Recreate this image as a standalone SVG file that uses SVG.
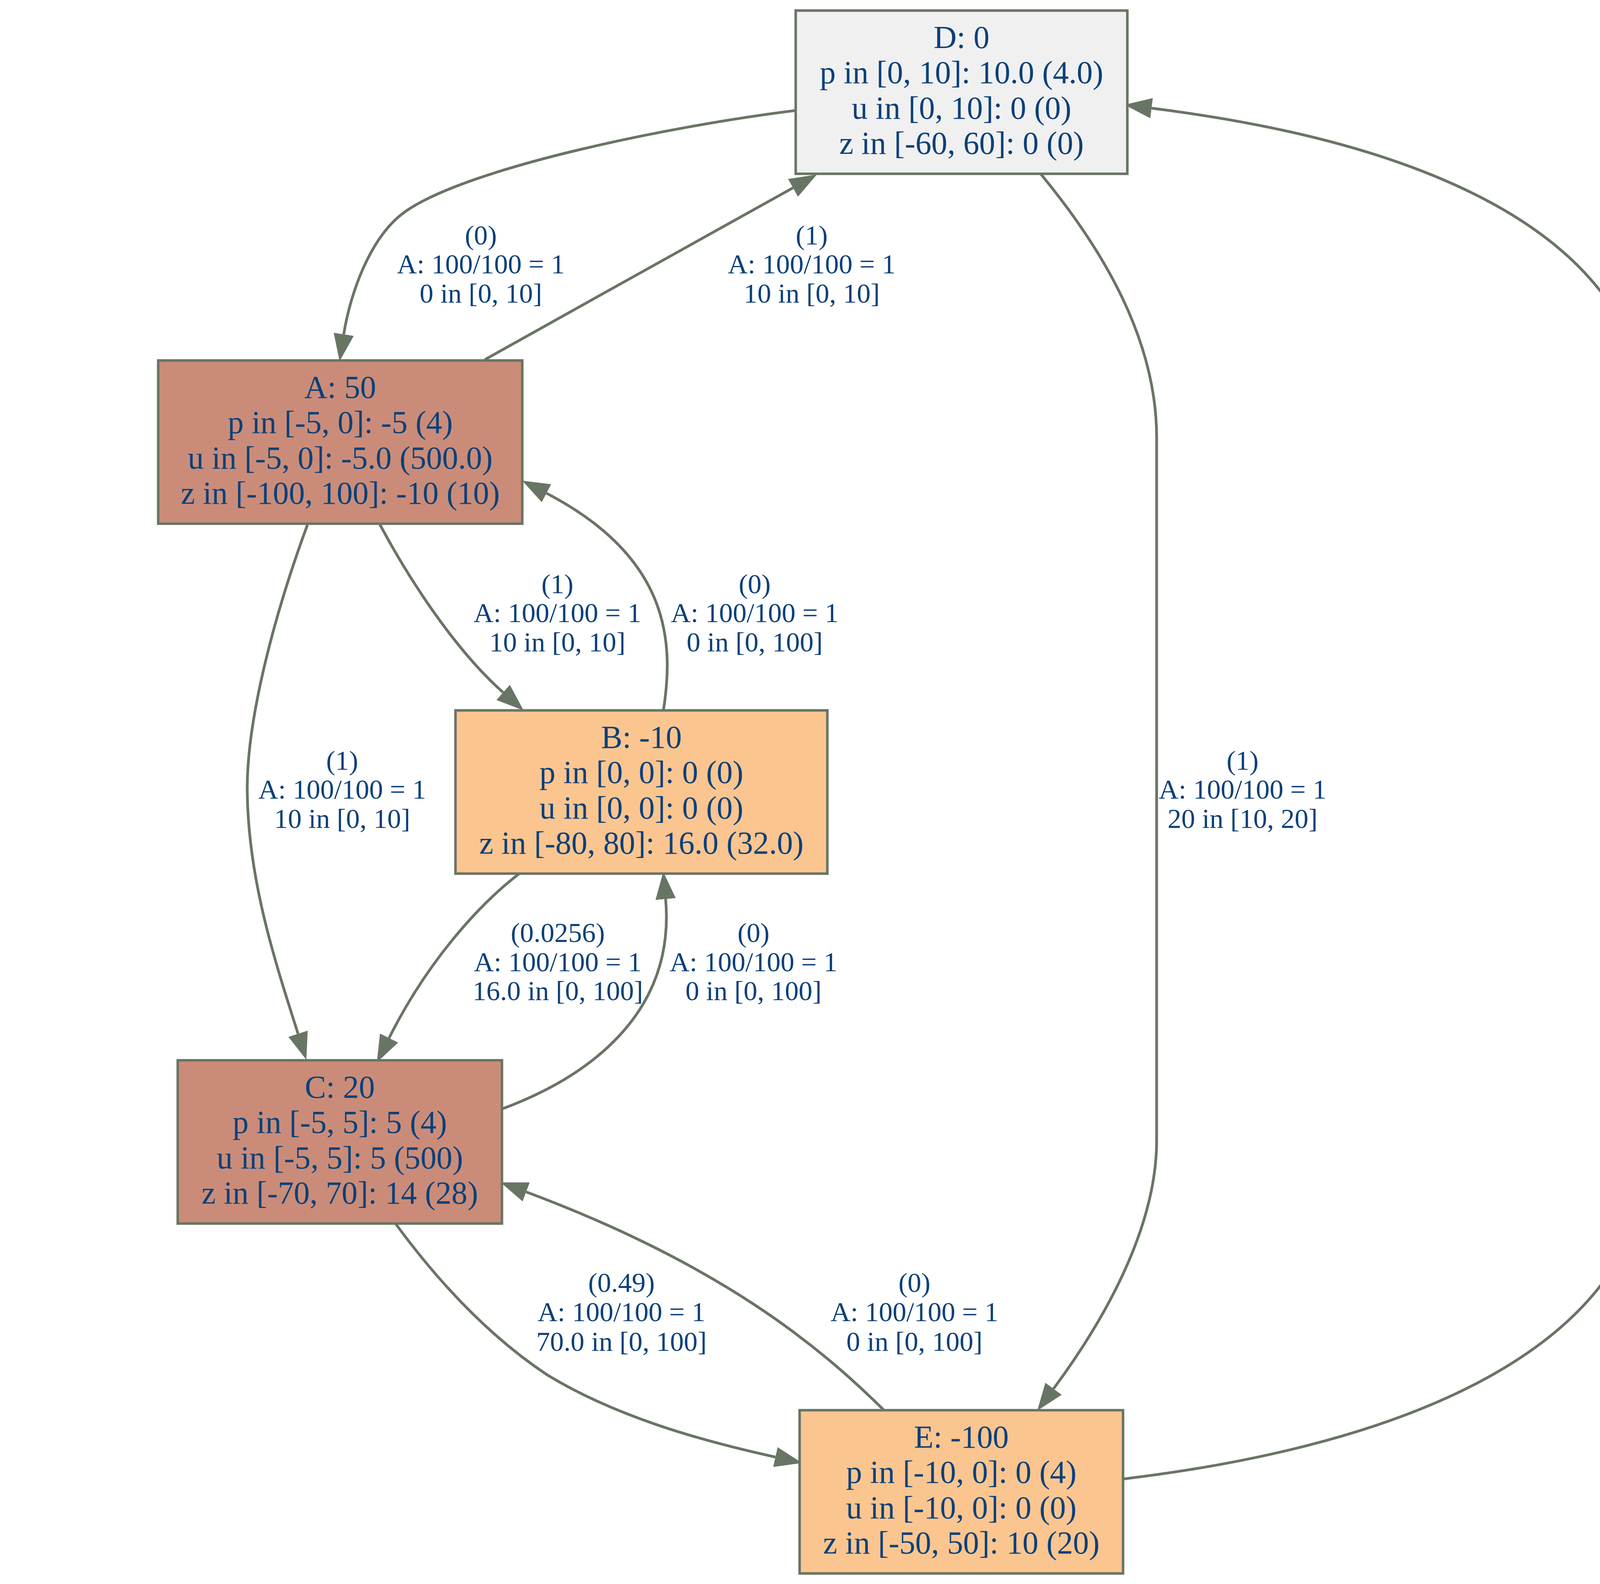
<svg xmlns="http://www.w3.org/2000/svg" width="4697" height="4056" viewBox="0 0 4697 4056">
<style>
.node rect{stroke:#697564;stroke-width:6.5}
.a{fill:#ca8c79}
.b{fill:#fbc590}
.d{fill:#f0f0f0}
.nt{font-family:"Liberation Serif","Times New Roman",serif;font-size:81.7px;fill:#0b4079;text-anchor:middle}
.et{font-family:"Liberation Serif","Times New Roman",serif;font-size:70.5px;fill:#0b4079;text-anchor:middle}
.edges path{fill:none;stroke:#697564;stroke-width:7;marker-end:url(#arr)}
</style>
<defs>
<marker id="arr" markerUnits="userSpaceOnUse" viewBox="0 0 70 52" markerWidth="70" markerHeight="52" refX="0" refY="26" orient="auto">
<path d="M0,0 L70,26 L0,52 Z" fill="#697564"/>
</marker>
</defs>
<rect width="4697" height="4056" fill="#ffffff"/>
<g class="edges" id="edges">
<path id="e_DA" d="M2036,283 C1700,325 1200,430 1040,540 C945,605 895,760 880,856"/>
<path id="e_AD" d="M1241,921 C1500,776 1780,620 2030,481"/>
<path id="e_DE" d="M2664,445 C2800,610 2961,850 2961,1120 L2961,2920 C2961,3150 2820,3390 2697,3556"/>
<path id="e_ED" d="M2876,3787 C3600,3700 4225,3450 4225,2920 L4225,1120 C4225,520 3450,340 2948,277"/>
<path id="e_AB" d="M972,1342 C1040,1470 1160,1660 1288,1773"/>
<path id="e_BA" d="M1698,1821 C1725,1650 1720,1430 1399,1263"/>
<path id="e_AC" d="M787,1344 C700,1580 630,1850 633,2030 C636,2250 700,2450 763,2647"/>
<path id="e_BC" d="M1332,2235 C1220,2320 1090,2470 996,2658"/>
<path id="e_CB" d="M1284,2840 C1500,2760 1730,2600 1704,2302"/>
<path id="e_CE" d="M1011,3131 C1120,3280 1250,3420 1400,3520 C1580,3630 1800,3690 1985,3731"/>
<path id="e_EC" d="M2262,3610 C2100,3450 1850,3240 1347,3052"/>
</g>
<g id="edge-labels">
<text class="et" x="1231" y="626">(0)<tspan x="1231" y="700">A: 100/100 = 1</tspan><tspan x="1231" y="775">0 in [0, 10]</tspan></text>
<text class="et" x="2078" y="626">(1)<tspan x="2078" y="700">A: 100/100 = 1</tspan><tspan x="2078" y="775">10 in [0, 10]</tspan></text>
<text class="et" x="1427" y="1519">(1)<tspan x="1427" y="1593">A: 100/100 = 1</tspan><tspan x="1427" y="1668">10 in [0, 10]</tspan></text>
<text class="et" x="1932" y="1519">(0)<tspan x="1932" y="1593">A: 100/100 = 1</tspan><tspan x="1932" y="1668">0 in [0, 100]</tspan></text>
<text class="et" x="876" y="1971">(1)<tspan x="876" y="2045">A: 100/100 = 1</tspan><tspan x="876" y="2120">10 in [0, 10]</tspan></text>
<text class="et" x="3181" y="1971">(1)<tspan x="3181" y="2045">A: 100/100 = 1</tspan><tspan x="3181" y="2120">20 in [10, 20]</tspan></text>
<text class="et" x="4445" y="1971">(0)<tspan x="4445" y="2045">A: 100/100 = 1</tspan><tspan x="4445" y="2120">0 in [0, 100]</tspan></text>
<text class="et" x="1428" y="2412">(0.0256)<tspan x="1428" y="2487">A: 100/100 = 1</tspan><tspan x="1428" y="2561">16.0 in [0, 100]</tspan></text>
<text class="et" x="1929" y="2412">(0)<tspan x="1929" y="2487">A: 100/100 = 1</tspan><tspan x="1929" y="2561">0 in [0, 100]</tspan></text>
<text class="et" x="1591" y="3308">(0.49)<tspan x="1591" y="3383">A: 100/100 = 1</tspan><tspan x="1591" y="3459">70.0 in [0, 100]</tspan></text>
<text class="et" x="2341" y="3308">(0)<tspan x="2341" y="3383">A: 100/100 = 1</tspan><tspan x="2341" y="3459">0 in [0, 100]</tspan></text>
</g>
<g class="node" id="node-D">
<rect class="d" x="2037" y="27" width="849" height="418"/>
<text class="nt" x="2461.5" y="123">D: 0<tspan x="2461.5" y="213.3">p in [0, 10]: 10.0 (4.0)</tspan><tspan x="2461.5" y="303.6">u in [0, 10]: 0 (0)</tspan><tspan x="2461.5" y="394">z in [-60, 60]: 0 (0)</tspan></text>
</g>
<g class="node" id="node-A">
<rect class="a" x="405" y="923" width="932" height="418"/>
<text class="nt" x="871" y="1019">A: 50<tspan x="871" y="1109.3">p in [-5, 0]: -5 (4)</tspan><tspan x="871" y="1199.6">u in [-5, 0]: -5.0 (500.0)</tspan><tspan x="871" y="1290">z in [-100, 100]: -10 (10)</tspan></text>
</g>
<g class="node" id="node-B">
<rect class="b" x="1166" y="1819" width="952" height="418"/>
<text class="nt" x="1642" y="1915">B: -10<tspan x="1642" y="2005.3">p in [0, 0]: 0 (0)</tspan><tspan x="1642" y="2095.6">u in [0, 0]: 0 (0)</tspan><tspan x="1642" y="2186">z in [-80, 80]: 16.0 (32.0)</tspan></text>
</g>
<g class="node" id="node-C">
<rect class="a" x="455" y="2715" width="830" height="418"/>
<text class="nt" x="870" y="2811">C: 20<tspan x="870" y="2901.3">p in [-5, 5]: 5 (4)</tspan><tspan x="870" y="2991.6">u in [-5, 5]: 5 (500)</tspan><tspan x="870" y="3082">z in [-70, 70]: 14 (28)</tspan></text>
</g>
<g class="node" id="node-E">
<rect class="b" x="2047" y="3611" width="828" height="418"/>
<text class="nt" x="2461" y="3707">E: -100<tspan x="2461" y="3797.3">p in [-10, 0]: 0 (4)</tspan><tspan x="2461" y="3887.6">u in [-10, 0]: 0 (0)</tspan><tspan x="2461" y="3978">z in [-50, 50]: 10 (20)</tspan></text>
</g>
</svg>
